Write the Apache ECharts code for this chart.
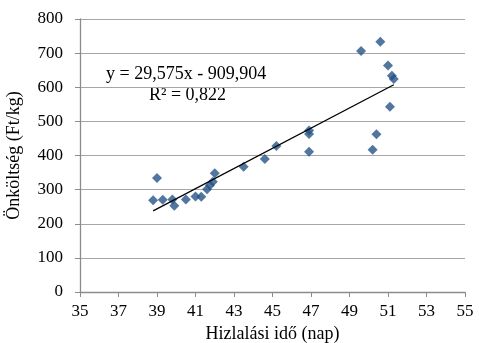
<!DOCTYPE html>
<html>
<head>
<meta charset="utf-8">
<script src="https://cdn.jsdelivr.net/npm/echarts@6/dist/echarts.min.js"></script>
<style>
html,body{margin:0;padding:0;background:#fff;}
#chart{width:479px;height:343px;}
</style>
</head>
<body>
<div id="chart"></div>
<script>
// Fattening period (days) vs. unit cost (Ft/kg)
var days = [38.8, 39.0, 39.3, 39.8, 39.9, 40.5, 41.0, 41.3, 41.6, 41.75, 41.9, 42.0, 43.5, 44.6, 45.2, 46.9, 46.9, 46.9, 49.6, 50.2, 50.4, 50.6, 51.0, 51.1, 51.2, 51.3];
var cost = [269, 334, 270, 271, 253, 271, 280, 279, 301, 313, 323, 348, 367, 390, 428, 473, 463, 411, 706, 417, 462, 733, 664, 543, 634, 624];
var xTicks = [35, 37, 39, 41, 43, 45, 47, 49, 51, 53, 55];
var yTicks = [0, 100, 200, 300, 400, 500, 600, 700, 800];

// Linear trend: y = 29,575x - 909,904
var slope = 29.575, intercept = -909.904;
var xMin = Math.min.apply(null, days), xMax = Math.max.apply(null, days);
var trend = [[xMin, slope * xMin + intercept], [xMax, slope * xMax + intercept]];

var font = '"Liberation Serif", "DejaVu Serif", serif';
var chart = echarts.init(document.getElementById('chart'));
chart.setOption({
  animation: false,
  textStyle: {fontFamily: font},
  grid: {left: 80, right: 14, top: 19, bottom: 51, containLabel: false, outerBoundsMode: 'none'},
  xAxis: {
    type: 'value', min: xTicks[0], max: xTicks[xTicks.length - 1], interval: 2,
    name: 'Hizlalási idő (nap)', nameLocation: 'middle', nameGap: 30,
    nameTextStyle: {fontFamily: font, fontSize: 18, color: '#000'},
    axisLine: {onZero: false, lineStyle: {color: '#8c8c8c', width: 1.3}},
    axisTick: {show: true, length: 5, lineStyle: {color: '#8c8c8c'}},
    axisLabel: {fontFamily: font, fontSize: 17, color: '#000', margin: 11},
    splitLine: {show: false}
  },
  yAxis: {
    type: 'value', min: yTicks[0], max: yTicks[yTicks.length - 1], interval: 100,
    name: 'Önköltség (Ft/kg)', nameLocation: 'middle', nameGap: 57, nameRotate: 90,
    nameTextStyle: {fontFamily: font, fontSize: 18, color: '#000'},
    axisLine: {show: true, lineStyle: {color: '#8c8c8c', width: 1.3}},
    axisTick: {show: true, length: 5, lineStyle: {color: '#8c8c8c'}},
    axisLabel: {fontFamily: font, fontSize: 17, color: '#000', margin: 17},
    splitLine: {show: true, lineStyle: {color: '#a6a6a6', width: 1}}
  },
  series: [
    {
      type: 'scatter', symbol: 'diamond', symbolSize: 10,
      itemStyle: {color: '#255487'},
      data: days.map(function (d, i) { return [d, cost[i]]; }),
      z: 3
    },
    {
      type: 'line', data: trend, symbol: 'none', silent: true,
      lineStyle: {color: '#000', width: 1.3},
      z: 4
    }
  ],
  graphic: [
    {type: 'text', x: 106, y: 74, style: {text: 'y = 29,575x - 909,904', font: '18px ' + font, fill: '#000', verticalAlign: 'middle'}},
    {type: 'text', x: 149, y: 95.5, style: {text: 'R² = 0,822', font: '18px ' + font, fill: '#000', verticalAlign: 'middle'}}
  ]
});
</script>
</body>
</html>
